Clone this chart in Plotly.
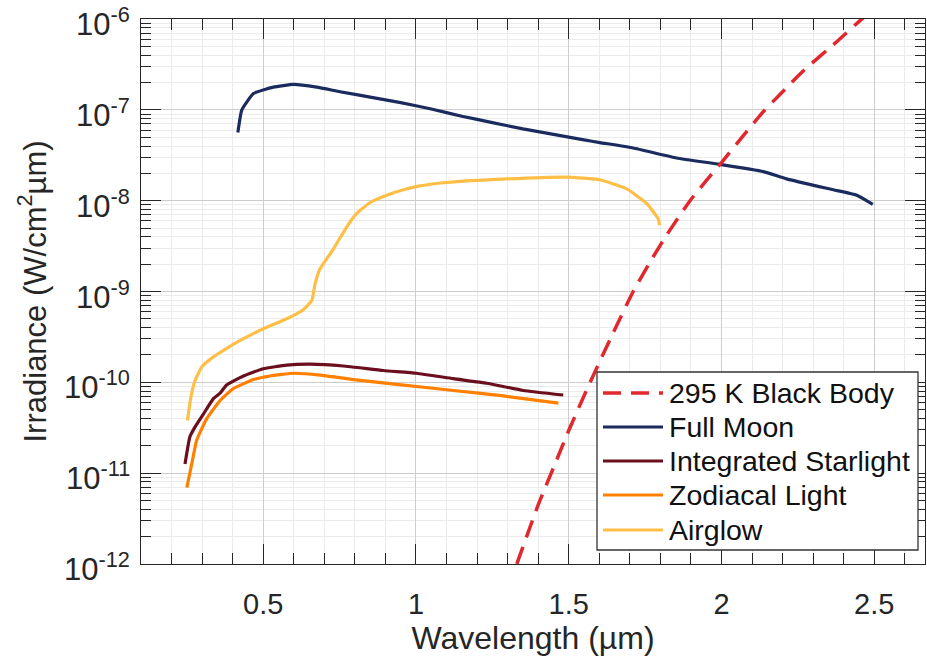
import plotly.graph_objects as go

# Wavelength (um) and log10 irradiance values
moon_x = [0.417, 0.43, 0.468, 0.533, 0.599, 0.675, 0.751, 0.85, 0.95, 1.05, 1.15, 1.25, 1.35, 1.45, 1.55,
          1.602, 1.711, 1.853, 1.995, 2.137, 2.213, 2.366, 2.443, 2.495]
moon_log = [-7.25, -7.00, -6.82, -6.75, -6.72, -6.75, -6.80, -6.86, -6.92, -6.99, -7.07, -7.14, -7.21, -7.27, -7.33,
            -7.36, -7.42, -7.53, -7.60, -7.68, -7.76, -7.88, -7.94, -8.04]

star_x = [0.244, 0.26, 0.277, 0.304, 0.337, 0.359, 0.38, 0.435, 0.5, 0.577, 0.653, 0.762, 0.893, 1.002,
          1.122, 1.232, 1.351, 1.482]
star_log = [-10.90, -10.60, -10.49, -10.35, -10.18, -10.12, -10.03, -9.93, -9.85, -9.81, -9.80, -9.82, -9.87, -9.90,
            -9.96, -10.01, -10.09, -10.14]

zodi_x = [0.25, 0.266, 0.282, 0.315, 0.359, 0.402, 0.468, 0.522, 0.599, 0.686, 0.795, 0.959, 1.122, 1.286, 1.466]
zodi_log = [-11.16, -10.90, -10.64, -10.40, -10.20, -10.07, -9.97, -9.93, -9.90, -9.92, -9.97, -10.03, -10.09,
            -10.15, -10.23]

air_x = [0.252, 0.264, 0.277, 0.299, 0.337, 0.413, 0.5, 0.577, 0.631, 0.659, 0.670, 0.686, 0.73, 0.773, 0.806,
         0.85, 0.904, 0.959, 1.008, 1.10, 1.297, 1.493, 1.602, 1.69, 1.755, 1.793, 1.797]
air_log = [-10.42, -10.15, -9.98, -9.83, -9.72, -9.56, -9.41, -9.30, -9.20, -9.10, -8.91, -8.75, -8.53, -8.29,
           -8.14, -8.02, -7.94, -7.88, -7.84, -7.80, -7.76, -7.74, -7.77, -7.87, -8.03, -8.20, -8.27]

bb_x = [1.33, 1.40, 1.455, 1.50, 1.57, 1.646, 1.711, 1.776, 1.82, 1.897, 1.95, 2.0, 2.07, 2.137, 2.2, 2.268,
        2.377, 2.459, 2.55]
bb_log = [-12.0, -11.35, -10.90, -10.53, -10.0, -9.45, -9.00, -8.62, -8.38, -8.00, -7.78, -7.58, -7.29, -7.02,
          -6.80, -6.57, -6.25, -6.00, -5.75]

names = ["295 K Black Body", "Full Moon", "Integrated Starlight", "Zodiacal Light", "Airglow"]
colors = ["#e0282e", "#1b2b5e", "#6b0f1e", "#ff8000", "#ffbf47"]

y_tick_exps = [-12, -11, -10, -9, -8, -7, -6]
y_tick_labels = ["10<sup>-%d</sup>" % (-e) for e in y_tick_exps]
x_title = "Wavelength (µm)"
y_title = "Irradiance (W/cm<sup>2</sup>µm)"


def lin(vals):
    return [10 ** v for v in vals]


# plot-area pixel geometry
L, R, T, B = 141, 925, 19, 564
W, H = 927, 657


def px(xp):
    return (xp - L) / (R - L)


def py(yp):
    return (B - yp) / (B - T)


fig = go.Figure()
series = [(moon_x, moon_log, 1), (star_x, star_log, 2), (zodi_x, zodi_log, 3), (air_x, air_log, 4)]
for xs, ls, i in series:
    fig.add_trace(go.Scatter(x=xs, y=lin(ls), mode="lines", name=names[i], showlegend=False,
                             line=dict(color=colors[i], width=3.2, shape="spline", smoothing=0.4)))
fig.add_trace(go.Scatter(x=bb_x, y=lin(bb_log), mode="lines", name=names[0], showlegend=False,
                         line=dict(color=colors[0], width=3.5, dash="18px,10px", shape="spline", smoothing=0.5)))

axis_col = "#262626"

# custom legend box
shapes = [dict(type="rect", xref="paper", yref="paper", x0=px(597), x1=px(918), y0=py(550), y1=py(372),
               fillcolor="white", line=dict(color="#333333", width=1.3), layer="above")]
annotations = []
row_y = [393, 427, 461, 495, 530]
for i, name in enumerate(names):
    shapes.append(dict(type="line", xref="paper", yref="paper", x0=px(603), x1=px(663), y0=py(row_y[i]),
                       y1=py(row_y[i]), layer="above",
                       line=dict(color=colors[i], width=3.5 if i == 0 else 3.2,
                                 dash="18px,10px" if i == 0 else "solid")))
    annotations.append(dict(xref="paper", yref="paper", x=px(667), y=py(row_y[i]), xanchor="left",
                            yanchor="middle", text=name, showarrow=False,
                            font=dict(size=28.5, color="#111111", family="Liberation Sans, Arial")))

# y tick labels placed on the log axis values
for e, lab in zip(y_tick_exps, y_tick_labels):
    annotations.append(dict(xref="paper", yref="y", x=0, y=e, xanchor="right", yanchor="middle",
                            xshift=-9, yshift=-3, text=lab, showarrow=False,
                            font=dict(size=31, color=axis_col, family="Liberation Sans, Arial")))
# y axis title
annotations.append(dict(xref="paper", yref="paper", x=px(32), y=0.5, xanchor="center", yanchor="middle",
                        textangle=-90, text=y_title, showarrow=False,
                        font=dict(size=31, color=axis_col, family="Liberation Sans, Arial")))

fig.update_layout(
    width=W, height=H,
    margin=dict(l=L, r=W - R, t=T, b=H - B, autoexpand=False),
    paper_bgcolor="white", plot_bgcolor="white",
    font=dict(family="Liberation Sans, Arial", color=axis_col),
    showlegend=False,
    shapes=shapes, annotations=annotations,
)
fig.update_xaxes(
    range=[0.1, 2.666], dtick=0.5, tick0=0.5, ticks="inside", ticklen=20, tickwidth=1.3, tickcolor=axis_col,
    showline=True, linecolor=axis_col, linewidth=1.3, mirror="allticks", automargin=False,
    showgrid=True, gridcolor="#cdcdcd", gridwidth=1, zeroline=False,
    tickfont=dict(size=29, color=axis_col), ticklabelstandoff=14,
    title=dict(text=x_title, font=dict(size=32, color=axis_col), standoff=2),
    minor=dict(dtick=0.1, ticks="inside", ticklen=11, tickcolor=axis_col, showgrid=True, gridcolor="#ebebeb"),
)
fig.update_yaxes(
    type="log", range=[-12.0005, -5.9995], dtick=1, showticklabels=False, ticks="inside", ticklen=20,
    tickwidth=1.3, tickcolor=axis_col, showline=True, linecolor=axis_col, linewidth=1.3, mirror="allticks",
    automargin=False,
    showgrid=True, gridcolor="#cdcdcd", gridwidth=1, zeroline=False,
    minor=dict(dtick="D1", ticks="inside", ticklen=10, tickcolor=axis_col, showgrid=True, gridcolor="#ebebeb"),
)

fig.write_html("out.html")
